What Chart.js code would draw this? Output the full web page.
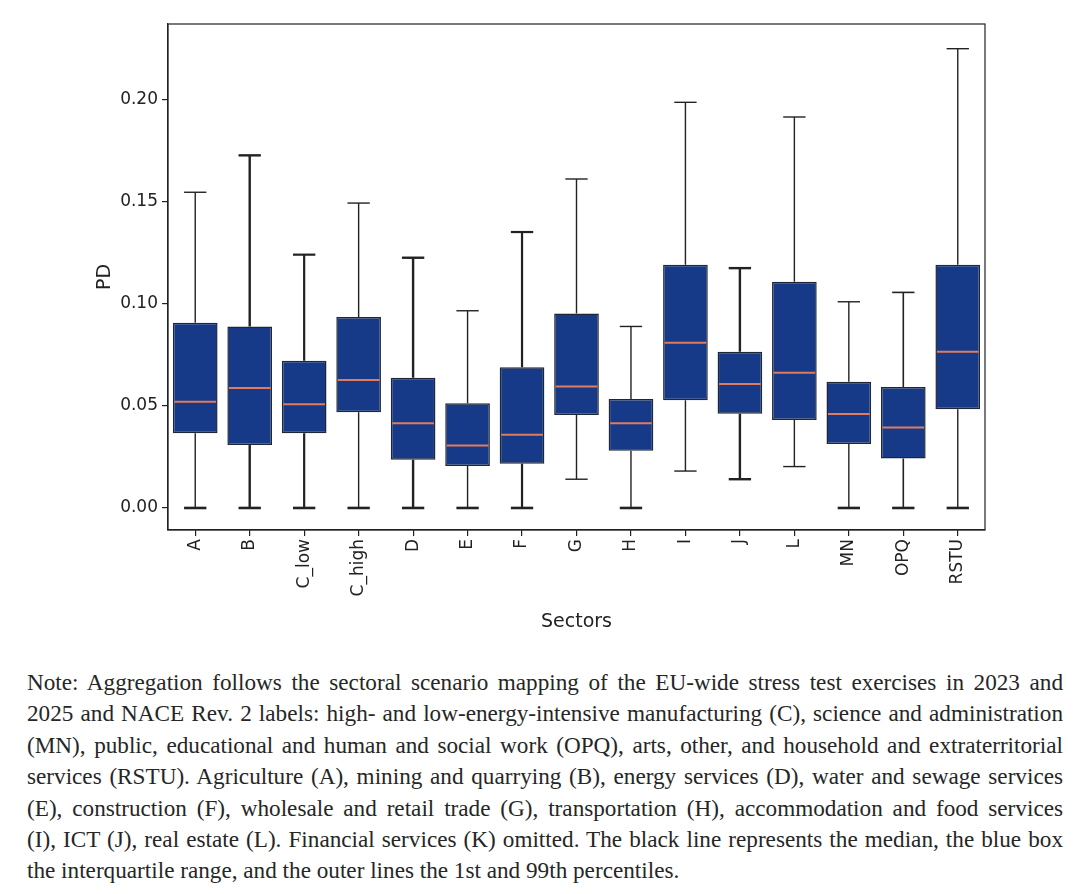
<!DOCTYPE html>
<html>
<head>
<meta charset="utf-8">
<script src="https://cdn.jsdelivr.net/npm/chart.js@4"></script>
<style>
  html, body { margin: 0; padding: 0; background: #fff; }
  #wrap { position: relative; width: 1081px; height: 645px; }
  #note {
    position: absolute; left: 27px; top: 667px; width: 1036px;
    font-family: "Liberation Serif", "DejaVu Serif", serif;
    font-size: 23.2px; line-height: 31.4px; color: #262626;
  }
  #note div { text-align: justify; text-align-last: justify; white-space: nowrap; }
  #note div.last { text-align-last: left; }
</style>
</head>
<body>
<div id="wrap"><canvas id="c" width="1081" height="645"></canvas></div>
<div id="note">
  <div>Note: Aggregation follows the sectoral scenario mapping of the EU-wide stress test exercises in 2023 and</div>
  <div>2025 and NACE Rev. 2 labels: high- and low-energy-intensive manufacturing (C), science and administration</div>
  <div>(MN), public, educational and human and social work (OPQ), arts, other, and household and extraterritorial</div>
  <div>services (RSTU). Agriculture (A), mining and quarrying (B), energy services (D), water and sewage services</div>
  <div>(E), construction (F), wholesale and retail trade (G), transportation (H), accommodation and food services</div>
  <div>(I), ICT (J), real estate (L). Financial services (K) omitted. The black line represents the median, the blue box</div>
  <div class="last">the interquartile range, and the outer lines the 1st and 99th percentiles.</div>
</div>
<script>
// ---- data ----
const sectors = ["A","B","C_low","C_high","D","E","F","G","H","I","J","L","MN","OPQ","RSTU"];
const p1      = [0.000,0.000,0.000,0.000,0.000,0.000,0.000,0.0141,0.000,0.0181,0.0141,0.0203,0.000,0.000,0.000];
const q1      = [0.0366,0.0309,0.0366,0.0469,0.0237,0.0206,0.0217,0.0456,0.0281,0.0528,0.0462,0.0431,0.0314,0.0242,0.0484];
const median  = [0.0521,0.0588,0.0508,0.0627,0.0415,0.0306,0.0359,0.0596,0.0415,0.0810,0.0608,0.0663,0.0461,0.0395,0.0766];
const q3      = [0.0908,0.0890,0.0722,0.0936,0.0639,0.0513,0.0690,0.0954,0.0534,0.1193,0.0766,0.1109,0.0619,0.0593,0.1193];
const p99     = [0.1548,0.1729,0.1242,0.1495,0.1227,0.0967,0.1353,0.1613,0.0890,0.1989,0.1176,0.1917,0.1011,0.1057,0.2252];
const yTicks  = [0.00,0.05,0.10,0.15,0.20];

// ---- styles ----
const BOX = "#163a88", EDGE = "#1f2636", MED = "#e27a5c", INK = "#222222";
const whiskerWidths = [1.4,2.4,2.2,1.4,2.4,1.4,2.2,1.4,1.4,1.4,2.4,1.4,1.4,1.6,1.4];

const boxPlugin = {
  id: "boxExtras",
  afterDatasetsDraw(chart) {
    const ctx = chart.ctx, x = chart.scales.x, y = chart.scales.y;
    const meta = chart.getDatasetMeta(0);
    ctx.save();
    sectors.forEach((s, i) => {
      const bar = meta.data[i];
      const cx = x.getPixelForValue(i);
      const half = bar.width / 2;
      const capHalf = half / 2;
      const lw = whiskerWidths[i];
      ctx.strokeStyle = INK;
      ctx.lineWidth = lw;
      ctx.lineCap = "butt";
      ctx.beginPath();
      ctx.moveTo(cx, y.getPixelForValue(q3[i])); ctx.lineTo(cx, y.getPixelForValue(p99[i]));
      ctx.moveTo(cx, y.getPixelForValue(q1[i])); ctx.lineTo(cx, y.getPixelForValue(p1[i]));
      ctx.stroke();
      ctx.beginPath();
      const yt = y.getPixelForValue(p99[i]);
      ctx.moveTo(cx - capHalf, yt); ctx.lineTo(cx + capHalf, yt);
      ctx.stroke();
      ctx.lineWidth = p1[i] === 0 ? 2.6 : lw;
      ctx.beginPath();
      const yb = y.getPixelForValue(p1[i]);
      ctx.moveTo(cx - capHalf, yb); ctx.lineTo(cx + capHalf, yb);
      ctx.stroke();
      ctx.strokeStyle = MED;
      ctx.lineWidth = 2;
      ctx.beginPath();
      const ym = y.getPixelForValue(median[i]);
      ctx.moveTo(cx - half + 1.5, ym); ctx.lineTo(cx + half - 1.5, ym);
      ctx.stroke();
    });
    const a = chart.chartArea;
    ctx.strokeStyle = INK;
    ctx.lineWidth = 1.2;
    ctx.strokeRect(a.left, a.top, a.right - a.left, a.bottom - a.top);
    ctx.restore();
  }
};

new Chart(document.getElementById("c"), {
  type: "bar",
  data: {
    labels: sectors,
    datasets: [{
      label: "IQR",
      data: q1.map((v, i) => [v, q3[i]]),
      backgroundColor: BOX,
      borderColor: EDGE,
      borderWidth: 1.5,
      borderSkipped: false,
      barPercentage: 0.82,
      categoryPercentage: 1.0
    }]
  },
  options: {
    responsive: false,
    animation: false,
    devicePixelRatio: 1,
    layout: { padding: { left: 94, right: 96, top: 24, bottom: 12 } },
    plugins: { legend: { display: false }, tooltip: { enabled: false } },
    scales: {
      x: {
        type: "category",
        offset: true,
        grid: { display: true, offset: false, drawOnChartArea: false, drawTicks: true, tickLength: 6, color: INK, lineWidth: 1.2 },
        border: { display: true, color: INK, width: 1.2 },
        ticks: { color: INK, font: { family: "DejaVu Sans", size: 17 }, minRotation: 90, maxRotation: 90, padding: 3, autoSkip: false },
        title: { display: true, text: "Sectors", color: INK, font: { family: "DejaVu Sans", size: 19 }, padding: { top: 0, bottom: 0 } },
        afterFit(scale) { scale.height = 103; }
      },
      y: {
        min: -0.0108,
        max: 0.2373,
        afterBuildTicks(scale) { scale.ticks = yTicks.map(v => ({ value: v })); },
        grid: { display: true, drawOnChartArea: false, drawTicks: true, tickLength: 6, color: INK, lineWidth: 1.2 },
        border: { display: true, color: INK, width: 1.2 },
        ticks: { color: INK, font: { family: "DejaVu Sans", size: 17 }, padding: 4, callback: v => Number(v).toFixed(2) },
        title: { display: true, text: "PD", color: INK, font: { family: "DejaVu Sans", size: 19 }, padding: { top: 0, bottom: 0 } },
        afterFit(scale) { scale.width = 74; }
      }
    }
  },
  plugins: [boxPlugin]
});
</script>
</body>
</html>
